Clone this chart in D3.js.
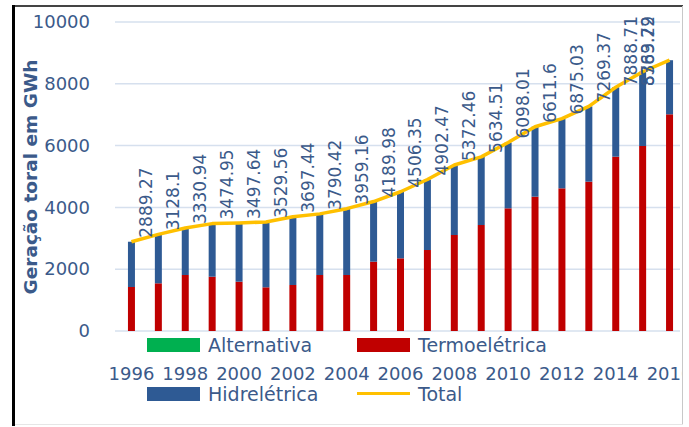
<!DOCTYPE html>
<html>
<head>
<meta charset="utf-8">
<script src="https://cdn.jsdelivr.net/npm/d3@7/dist/d3.min.js"></script>
<style>
body { margin: 0; background: #fff; }
svg { display: block; font-family: "DejaVu Sans", sans-serif; }
</style>
</head>
<body>
<svg width="689" height="427"></svg>
<script>
var years = [1996, 1997, 1998, 1999, 2000, 2001, 2002, 2003, 2004, 2005, 2006,
             2007, 2008, 2009, 2010, 2011, 2012, 2013, 2014, 2015, 2016]
var termo = [1424, 1543, 1812, 1757, 1596, 1414, 1489, 1812, 1812, 2243, 2352,
             2621, 3107, 3430, 3970, 4347, 4617, 4833, 5641, 5987, 7013]
var hidro = [1465, 1585, 1519, 1718, 1902, 2116, 2208, 1978, 2147, 1947, 2154,
             2281, 2265, 2205, 2128, 2265, 2258, 2436, 2248, 2403, 1750]
var alternativa = [0, 0, 0, 0, 0, 0, 0, 0, 0, 0, 0,
                   0, 0, 0, 0, 0, 0, 0, 0, 0, 0]
var totals = [2889.27, 3128.1, 3330.94, 3474.95, 3497.64, 3529.56, 3697.44, 3790.42, 3959.16, 4189.98, 4506.35,
              4902.47, 5372.46, 5634.51, 6098.01, 6611.6, 6875.03, 7269.37, 7888.71, 8389.79, 8763.22]
var yTicks = [0, 2000, 4000, 6000, 8000, 10000]
var xTickYears = [1996, 1998, 2000, 2002, 2004, 2006, 2008, 2010, 2012, 2014, 2016]

var colors = {alternativa: "#00b050", termo: "#c00000", hidro: "#2e5a94", total: "#ffc000"}
var ink = "#3b5a8a"

var rows = years.map((yr, i) => ({
  year: yr, termo: termo[i], alternativa: alternativa[i], hidro: hidro[i], total: totals[i]
}))

var svg = d3.select("svg")

var x = d3.scaleBand().domain(years).range([118, 683]).paddingInner(0.74).paddingOuter(0.37)
var y = d3.scaleLinear().domain([0, 10000]).range([331, 22])
var cx = d => x(d) + x.bandwidth() / 2

// the year row is cut by the right border, as in the original
svg.append("clipPath").attr("id", "frame")
  .append("rect").attr("x", 0).attr("y", 0).attr("width", 682).attr("height", 427)

// gridlines
svg.append("g").selectAll("line")
  .data(yTicks)
  .enter().append("line")
  .attr("x1", 115).attr("x2", 680)
  .attr("y1", d => y(d)).attr("y2", d => y(d))
  .attr("stroke", "#d6e0ee").attr("stroke-width", 1.5)

// y axis
var yAxis = svg.append("g")
  .attr("transform", "translate(93,0)")
  .call(d3.axisLeft(y).tickValues(yTicks).tickFormat(d3.format("d")).tickSize(0).tickPadding(3))
yAxis.select(".domain").remove()
yAxis.selectAll("text")
  .attr("font-family", "DejaVu Sans").attr("font-size", 18).attr("fill", ink)

// x axis
var xAxis = svg.append("g")
  .attr("transform", "translate(0,367)")
  .attr("clip-path", "url(#frame)")
  .call(d3.axisBottom(x).tickValues(xTickYears).tickSize(0).tickPadding(0))
xAxis.select(".domain").remove()
xAxis.selectAll("text")
  .attr("font-family", "DejaVu Sans").attr("font-size", 18).attr("fill", ink)

// stacked bars
var stack = d3.stack().keys(["termo", "alternativa", "hidro"])(rows)
svg.append("g").selectAll("g")
  .data(stack)
  .enter().append("g")
  .attr("fill", d => colors[d.key])
  .selectAll("rect")
  .data(d => d)
  .enter().append("rect")
  .attr("x", d => x(d.data.year))
  .attr("y", d => y(d[1]))
  .attr("width", x.bandwidth())
  .attr("height", d => y(d[0]) - y(d[1]))

// total line
var line = d3.line().x(d => cx(d.year)).y(d => y(d.total))
svg.append("path")
  .datum(rows)
  .attr("d", line)
  .attr("fill", "none")
  .attr("stroke", colors.total)
  .attr("stroke-width", 3.5)
  .attr("stroke-linejoin", "round")

// data labels (pushed inside the plot near the right/top edge)
svg.append("g").selectAll("text")
  .data(rows)
  .enter().append("text")
  .attr("font-size", 17)
  .attr("fill", ink)
  .attr("dy", "0.35em")
  .text(d => String(d.total))
  .attr("transform", function (d) {
    var len = this.getComputedTextLength()
    var lx = Math.min(cx(d.year) + 15, 648)
    var ly = Math.max(y(d.total) - 4, 16 + len)
    return `translate(${lx},${ly}) rotate(-90)`
  })

// y title
svg.append("text")
  .attr("transform", "translate(31,177) rotate(-90)")
  .attr("text-anchor", "middle")
  .attr("dy", "0.35em")
  .attr("font-size", 18.5)
  .attr("font-weight", "bold")
  .attr("fill", ink)
  .text("Geração toral em GWh")

// legend
var legend = [
  {name: "Alternativa", key: "alternativa", lx: 147, ly: 338, type: "rect"},
  {name: "Termoelétrica", key: "termo", lx: 357, ly: 338, type: "rect"},
  {name: "Hidrelétrica", key: "hidro", lx: 147, ly: 387, type: "rect"},
  {name: "Total", key: "total", lx: 357, ly: 387, type: "line"}
]
var lg = svg.append("g").selectAll("g")
  .data(legend)
  .enter().append("g")
  .attr("transform", d => `translate(${d.lx},${d.ly})`)
lg.filter(d => d.type == "rect").append("rect")
  .attr("width", 53).attr("height", 14)
  .attr("fill", d => colors[d.key])
lg.filter(d => d.type == "line").append("line")
  .attr("x1", 0).attr("x2", 53).attr("y1", 6.5).attr("y2", 6.5)
  .attr("stroke", d => colors[d.key]).attr("stroke-width", 3)
lg.append("text")
  .attr("x", 61).attr("y", 14)
  .attr("font-size", 19)
  .attr("fill", ink)
  .text(d => d.name)

// frame
svg.append("line").attr("x1", 12).attr("x2", 683).attr("y1", 6).attr("y2", 6)
  .attr("stroke", "#444").attr("stroke-width", 2)
svg.append("line").attr("x1", 682.5).attr("x2", 682.5).attr("y1", 6).attr("y2", 425)
  .attr("stroke", "#c8c8c8").attr("stroke-width", 1)
svg.append("line").attr("x1", 13).attr("x2", 683).attr("y1", 424.5).attr("y2", 424.5)
  .attr("stroke", "#e6e6e6").attr("stroke-width", 1)
svg.append("line").attr("x1", 13.5).attr("x2", 13.5).attr("y1", 5).attr("y2", 426)
  .attr("stroke", "#000").attr("stroke-width", 3)
</script>
</body>
</html>
